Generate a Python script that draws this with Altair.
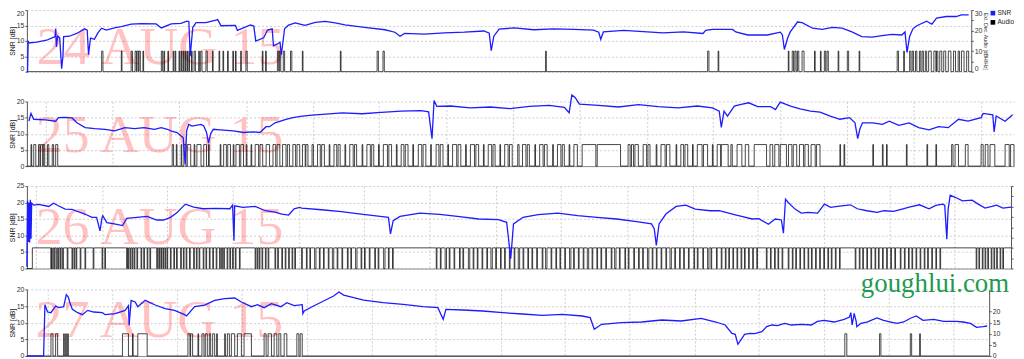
import altair as alt
import pandas as pd

# ---------------- data (x = minutes of the day, 0..1440) ----------------
DATES = ["24 AUG 15", "25 AUG 15", "26 AUG 15", "27 AUG 15"]
DATE_POS = [(15, 2.4), (13, 4.3), (13, 7.5), (13, 5.7)]
WATERMARK = "goughlui.com"
WATERMARK_POS = (1248, 19.1)
LEGEND_NAMES = ["SNR", "Audio"]
LEGEND_POS = [(1473, 19.0), (1473, 16.0)]
LEGEND_TEXT_T = 1480

SNR_TICKS_20 = [0, 5, 10, 15, 20]
SNR_TICKS_25 = [0, 5, 10, 15, 20, 25]
AUDIO_TICKS_30 = [0, 5, 10, 15, 20, 25, 30]
AUDIO_TICKS_20 = [0, 5, 10, 15, 20]
AUDIO_TICKS_40 = [0, 5, 10, 15, 20, 25, 30, 35, 40]
AUDIO_LEVEL = 10

p1_grid = [61, 162, 264, 365, 468, 570, 672, 773, 875, 976, 1079, 1181, 1283, 1384]
p2_grid = [27, 125, 222, 320, 418, 514, 612, 709, 807, 905, 1001, 1099, 1197, 1294, 1392]
p3_grid = [13, 110, 205, 301, 398, 493, 589, 686, 781, 878, 974, 1069, 1166, 1262, 1357]
p4_grid = [31, 128, 224, 321, 419, 516, 612, 709, 805, 902, 999, 1095, 1193, 1290, 1386]

p1_snr = [(0, 0), (1, 0), (2, 10), (3, 9.3), (15, 9.6), (30, 10.2), (42, 11.3), (43, 11.5), (44, 14), (45, 8),
          (47, 11.5), (50, 11), (53, 1), (55, 5), (56, 11.4), (65, 11.5), (76, 12.4), (88, 13.9), (92, 13.5),
          (94, 5.5), (97, 10.9), (103, 10.5), (108, 12.5), (114, 14.1), (121, 13.5), (135, 14.3), (144, 14.6),
          (159, 15.4), (175, 15.6), (197, 15.5), (205, 14.2), (220, 15.5), (235, 15.7), (244, 16.4), (247, 16.2),
          (249, 5), (253, 14.4), (258, 15.9), (273, 15.9), (288, 16.7), (291, 16.9), (296, 14.9), (318, 15.0),
          (321, 13.4), (341, 15.2), (346, 14.8), (349, 9.9), (361, 11), (367, 13.5), (374, 13.9), (376, 8.4),
          (382, 9.0), (386, 9.5), (388, 5.5), (393, 14), (399, 15.1), (409, 15.8), (424, 15.0), (440, 16.0),
          (455, 16.3), (470, 15.8), (485, 15.2), (515, 14.4), (546, 13.6), (561, 12.8), (569, 11.5), (576, 12.4),
          (606, 12.2), (637, 12.6), (667, 12.8), (697, 13.2), (705, 12.5), (708, 6.8), (712, 11.5), (720, 13.8),
          (743, 14.2), (773, 13.6), (803, 13.9), (834, 13.7), (864, 13.5), (872, 12.8), (875, 10.5), (879, 12.9),
          (910, 13.4), (940, 13.0), (970, 12.6), (1001, 12.9), (1031, 12.4), (1035, 13.4), (1046, 13.7),
          (1076, 13.7), (1081, 12.9), (1099, 11.9), (1129, 11.9), (1149, 12.8), (1152, 11.9), (1155, 7.2),
          (1160, 10.9), (1164, 12.9), (1175, 16.1), (1182, 15.9), (1198, 14.1), (1213, 13.7), (1228, 14.4),
          (1243, 14.1), (1258, 12.9), (1273, 11.4), (1289, 11.2), (1304, 11.7), (1319, 12.1), (1334, 11.9),
          (1339, 12.9), (1342, 6.2), (1346, 11.4), (1351, 13.9), (1357, 14.9), (1372, 16.4), (1380, 15.4),
          (1387, 17.4), (1402, 17.9), (1417, 17.9), (1425, 18.4), (1436, 18.4)]

p1_audio = [(114, 116), (144, 145), (159, 161), (165, 167), (168, 170), (171, 173), (177, 178), (205, 207),
            (209, 210), (215, 216), (223, 224), (226, 227), (232, 233), (235, 236), (238, 239), (241, 242),
            (244, 245), (247, 248), (251, 252), (255, 257), (262, 263), (265, 267), (273, 275), (283, 284),
            (293, 294), (299, 300), (306, 307), (314, 315), (318, 319), (326, 327), (334, 336), (359, 360),
            (364, 365), (382, 384), (385, 387), (391, 393), (402, 404), (420, 421), (478, 479), (534, 536),
            (543, 545), (791, 792), (1038, 1040), (1054, 1055), (1161, 1162), (1167, 1169), (1171, 1173),
            (1175, 1177), (1182, 1185), (1201, 1202), (1210, 1211), (1216, 1218), (1220, 1222), (1237, 1238),
            (1251, 1253), (1269, 1270), (1327, 1329), (1337, 1338), (1346, 1348), (1350, 1352), (1355, 1357),
            (1361, 1363), (1365, 1367), (1370, 1372), (1375, 1379), (1383, 1386), (1387, 1389), (1392, 1395),
            (1398, 1401), (1405, 1409), (1413, 1416), (1420, 1422), (1425, 1429), (1433, 1436)]

p2_snr = [(3, 13.9), (6, 16.3), (10, 14.5), (27, 14.3), (42, 13.9), (46, 15.0), (56, 15.1), (66, 14.9), (73, 13.4),
          (85, 11.9), (99, 11.6), (114, 11.4), (128, 10.9), (143, 11.9), (157, 11.6), (171, 11.9), (186, 11.4),
          (196, 11.9), (205, 11.4), (210, 10.9), (219, 10.4), (225, 9.3), (228, 8.8), (231, 0.6), (233, 10.9),
          (236, 12.9), (241, 12.4), (254, 12.9), (258, 12.4), (262, 10.5), (265, 7.1), (268, 10), (272, 11.4),
          (282, 11.2), (301, 10.9), (316, 10.4), (330, 10.6), (340, 10.4), (349, 12.2), (354, 12.2), (362, 13.4),
          (378, 14.5), (388, 15.0), (402, 15.5), (416, 15.8), (431, 16.0), (460, 16.5), (489, 16.2), (517, 16.6),
          (546, 17.0), (575, 17.2), (586, 16.8), (591, 8.5), (594, 20.3), (598, 18.5), (618, 18.6), (647, 18.0),
          (676, 18.3), (705, 17.8), (733, 18.5), (762, 18.8), (784, 18.2), (791, 16.5), (795, 22.0), (800, 21.2),
          (806, 19.2), (834, 18.8), (863, 18.3), (892, 19.0), (921, 18.4), (950, 18.0), (978, 18.6), (1000, 18.0),
          (1010, 17.0), (1013, 12.0), (1017, 17.0), (1022, 15.5), (1032, 18.6), (1042, 19.1), (1053, 19.6),
          (1066, 18.4), (1085, 18.4), (1092, 17.5), (1099, 19.8), (1114, 18.6), (1128, 17.7), (1143, 17.0),
          (1157, 16.7), (1172, 15.5), (1186, 14.5), (1200, 15.0), (1208, 13.4), (1212, 8.5), (1215, 11.4),
          (1219, 13.4), (1234, 13.4), (1248, 12.9), (1258, 13.9), (1272, 12.6), (1287, 13.4), (1301, 11.9),
          (1316, 11.2), (1330, 12.2), (1344, 11.9), (1359, 14.5), (1373, 13.9), (1392, 15.0), (1395, 16.3),
          (1409, 15.9), (1411, 10.6), (1414, 15.5), (1427, 13.9), (1438, 15.9)]

p2_audio = [(6, 7), (10, 13), (17, 19), (20, 23), (24, 26), (30, 32), (37, 39), (42, 45), (212, 214), (218, 219),
            (225, 226), (229, 232), (234, 239), (244, 245), (248, 254), (258, 262), (265, 266), (282, 283),
            (287, 291), (293, 297), (301, 302), (305, 310), (312, 316), (320, 321), (327, 328), (333, 338),
            (340, 344), (349, 354), (359, 363), (365, 369), (373, 378), (380, 383), (388, 392), (394, 398),
            (402, 406), (407, 410), (416, 418), (424, 428), (430, 434), (441, 442), (448, 452), (454, 457),
            (464, 465), (471, 476), (478, 481), (489, 490), (496, 501), (503, 506), (513, 514), (520, 526),
            (528, 532), (539, 540), (546, 550), (552, 556), (563, 564), (571, 576), (578, 582), (589, 590),
            (597, 601), (603, 607), (614, 615), (621, 627), (629, 633), (640, 641), (647, 653), (655, 659),
            (666, 667), (673, 678), (680, 683), (690, 691), (697, 702), (704, 708), (716, 718), (723, 728),
            (730, 733), (741, 742), (748, 753), (755, 759), (767, 768), (774, 779), (781, 784), (791, 792),
            (798, 803), (810, 830), (832, 866), (877, 880), (882, 885), (887, 892), (899, 904), (906, 909),
            (918, 919), (925, 931), (933, 938), (947, 948), (954, 958), (960, 964), (971, 972), (978, 985),
            (987, 993), (1000, 1001), (1007, 1012), (1013, 1023), (1027, 1029), (1036, 1043), (1048, 1053),
            (1061, 1079), (1084, 1088), (1091, 1097), (1099, 1108), (1111, 1116), (1118, 1123), (1127, 1133),
            (1135, 1140), (1144, 1150), (1152, 1157), (1186, 1187), (1192, 1193), (1234, 1235), (1248, 1249),
            (1254, 1255), (1283, 1284), (1313, 1314), (1326, 1327), (1349, 1351), (1354, 1359), (1369, 1373),
            (1392, 1395), (1398, 1402), (1405, 1412), (1427, 1433), (1435, 1440)]

p3_snr = [(0, 0.5), (1, 20.5), (2, 8), (3, 20), (4, 7.9), (5, 20.8), (6, 9), (7, 19.8), (10, 19.2), (17, 19.4),
          (32, 18.8), (39, 19.8), (46, 19.0), (56, 18.0), (66, 17.9), (75, 17.2), (85, 16.5), (95, 15.5),
          (102, 15.5), (107, 11.4), (110, 15.5), (111, 16.0), (117, 13.9), (128, 13.5), (140, 13.0), (146, 15.2),
          (161, 15.5), (176, 15.8), (190, 14.7), (200, 14.7), (210, 15.5), (219, 16.8), (232, 19.5), (244, 18.6),
          (258, 18.1), (277, 18.2), (297, 18.1), (301, 19.2), (303, 8.4), (304, 19.0), (316, 18.5), (334, 18.8),
          (349, 17.5), (363, 17.1), (373, 16.5), (383, 16.2), (391, 18.1), (399, 18.5), (402, 18.3), (431, 17.8),
          (460, 17.2), (489, 16.5), (517, 15.8), (529, 15.5), (532, 10.5), (536, 14.5), (546, 15.8), (575, 16.8),
          (604, 16.4), (633, 15.7), (661, 15.0), (690, 14.8), (702, 14.0), (708, 3.0), (712, 13.5), (726, 15.5),
          (748, 16.3), (777, 16.8), (806, 16.0), (834, 15.5), (863, 15.0), (892, 14.2), (914, 13.5), (918, 12.0),
          (921, 7.0), (925, 13.5), (935, 16.5), (950, 18.8), (964, 19.2), (978, 18.0), (1000, 17.5), (1013, 17.5),
          (1027, 16.8), (1038, 16.2), (1046, 15.8), (1061, 15.0), (1071, 15.1), (1085, 13.4), (1095, 15.0),
          (1104, 14.7), (1107, 10.7), (1110, 21.0), (1114, 20.0), (1124, 18.0), (1133, 16.8), (1143, 17.0),
          (1157, 16.8), (1167, 19.5), (1176, 18.5), (1186, 18.8), (1205, 19.3), (1215, 18.1), (1229, 17.5),
          (1244, 17.0), (1254, 17.5), (1268, 17.3), (1282, 18.1), (1291, 18.6), (1306, 19.3), (1320, 18.1),
          (1330, 19.1), (1340, 19.5), (1343, 19.2), (1346, 8.9), (1348, 18.0), (1351, 22.2), (1359, 21.5),
          (1369, 20.5), (1383, 20.7), (1392, 19.5), (1402, 18.3), (1412, 18.8), (1419, 19.2), (1428, 18.3),
          (1440, 18.6)]

# panel 3 audio is high most of the time: these are the short drops to zero
p3_audio_start = 8
p3_audio_dips = [(35, 36), (37, 38.5), (40, 41), (43, 44.5), (46, 47), (49, 50), (52, 53.5), (59, 60), (66, 67),
                 (69, 70), (72, 73), (78, 79), (85, 86), (97, 98), (110, 111), (114, 115), (146, 147), (148, 149),
                 (151, 152), (154, 155), (157, 158), (161, 162), (167, 168), (171, 172), (176, 177), (180, 181),
                 (190, 191), (193, 194), (196, 197), (199, 200), (202, 203), (205, 206), (210, 211), (215, 216),
                 (219, 220), (225, 226), (229, 230), (233, 234), (238, 239), (244, 245), (248, 249), (252, 253),
                 (258, 259), (262, 263), (267, 268), (272, 273), (277, 278), (282, 283), (285, 286), (288, 289),
                 (293, 294), (297, 298), (301, 302), (305, 306), (311, 312), (334, 335), (337, 338), (340, 341),
                 (344, 345), (349, 350), (353, 354), (363, 364), (367, 368), (373, 374), (378, 379), (383, 384),
                 (388, 389), (392, 393), (402, 403), (409, 410), (414, 415), (421, 423), (428, 429), (434, 435),
                 (441, 442), (447, 449), (454, 455), (461, 462), (469, 470), (474, 475), (481, 483), (489, 490),
                 (494, 495), (501, 502), (509, 510), (514, 515), (522, 524), (529, 530), (535, 536), (599, 600),
                 (605, 606), (612, 614), (618, 619), (625, 626), (633, 634), (638, 639), (646, 648), (653, 654),
                 (659, 660), (666, 667), (673, 674), (679, 681), (686, 687), (693, 694), (699, 700), (706, 707),
                 (713, 714), (719, 721), (726, 727), (733, 734), (739, 740), (746, 747), (754, 755), (759, 761),
                 (767, 768), (774, 775), (780, 781), (787, 788), (794, 796), (800, 801), (807, 808), (814, 815),
                 (820, 822), (827, 828), (834, 835), (840, 841), (847, 848), (855, 856), (860, 862), (867, 868),
                 (875, 876), (880, 881), (888, 889), (895, 896), (901, 902), (908, 910), (915, 916), (921, 922),
                 (928, 929), (935, 936), (941, 943), (948, 949), (955, 956), (961, 962), (968, 969), (976, 977),
                 (981, 982), (989, 990), (996, 998), (1001, 1002), (1009, 1010), (1016, 1017), (1022, 1023),
                 (1027, 1028), (1033, 1034), (1039, 1040), (1045, 1046), (1050, 1051), (1056, 1057), (1062, 1063),
                 (1068, 1069), (1082, 1083), (1088, 1089), (1094, 1095), (1099, 1100), (1105, 1106), (1114, 1115),
                 (1120, 1121), (1125, 1126), (1131, 1132), (1137, 1138), (1143, 1144), (1148, 1149), (1154, 1155),
                 (1160, 1161), (1166, 1167), (1172, 1173), (1177, 1178), (1183, 1184), (1189, 1190), (1212, 1213),
                 (1218, 1219), (1223, 1224), (1229, 1230), (1235, 1236), (1241, 1242), (1246, 1247), (1252, 1253),
                 (1258, 1259), (1264, 1265), (1270, 1271), (1278, 1279), (1284, 1285), (1290, 1291), (1295, 1296),
                 (1301, 1302), (1307, 1308), (1313, 1314), (1318, 1319), (1324, 1325), (1330, 1331), (1336, 1337),
                 (1389, 1390), (1393, 1394), (1398, 1399), (1402, 1403), (1406, 1407), (1411, 1412), (1415, 1416),
                 (1419, 1420), (1424, 1425), (1428, 1429)]

p4_snr = [(0, 0), (3, 0), (25, 0), (27, 15.4), (31, 13.2), (36, 13.0), (43, 15.0), (48, 14.5), (55, 14.8),
          (59, 18.4), (62, 17.7), (64, 16.2), (68, 14.0), (76, 13.0), (83, 12.4), (91, 13.7), (100, 13.2),
          (113, 13.0), (117, 12.4), (132, 12.7), (147, 13.7), (152, 15.1), (153, 9.2), (156, 16.7), (162, 16.2),
          (166, 14.8), (177, 16.7), (192, 15.3), (207, 14.2), (221, 13.7), (236, 12.4), (239, 12.0), (251, 14.8),
          (266, 15.3), (281, 16.7), (296, 17.2), (311, 17.4), (321, 16.2), (336, 14.8), (345, 15.4), (355, 14.5),
          (366, 15.7), (380, 14.8), (389, 16.0), (400, 15.1), (412, 15.4), (413, 12.7), (415, 13.5), (429, 15.0),
          (444, 16.5), (459, 18.0), (467, 19.2), (474, 18.3), (489, 17.5), (504, 16.8), (533, 16.0), (563, 15.5),
          (593, 14.8), (615, 14.5), (623, 11.0), (627, 14.0), (652, 13.8), (682, 13.5), (712, 13.0), (742, 12.6),
          (771, 12.2), (801, 12.5), (831, 12.0), (843, 11.5), (849, 8.0), (860, 9.5), (890, 10.0), (920, 10.2),
          (950, 10.8), (979, 10.5), (1009, 11.3), (1031, 10.2), (1045, 9.3), (1055, 6.8), (1060, 6.5),
          (1064, 3.5), (1070, 5.3), (1074, 6.5), (1082, 6.8), (1089, 6.7), (1100, 7.3), (1107, 8.8), (1115, 9.3),
          (1123, 9.1), (1134, 9.8), (1144, 9.3), (1159, 9.5), (1174, 9.3), (1183, 10.4), (1193, 10.7),
          (1208, 10.2), (1223, 11.0), (1231, 11.7), (1233, 13.0), (1235, 9.3), (1238, 12.8), (1241, 10.4),
          (1242, 8.8), (1248, 9.8), (1257, 10.2), (1272, 11.4), (1282, 10.7), (1293, 10.2), (1302, 9.8),
          (1312, 10.2), (1323, 11.4), (1331, 12.0), (1341, 10.7), (1357, 11.0), (1372, 10.4), (1391, 10.4),
          (1401, 10.2), (1412, 9.8), (1421, 8.6), (1431, 8.8), (1437, 9.0)]

p4_audio = [(36, 39), (43, 46), (55, 56), (58, 59), (61, 62), (143, 152), (158, 159), (166, 180), (241, 244),
            (245, 248), (256, 257), (262, 265), (267, 270), (273, 275), (278, 281), (284, 285), (296, 297),
            (300, 303), (306, 311), (315, 321), (325, 336), (355, 358), (361, 366), (370, 374), (377, 380),
            (385, 389), (404, 407), (409, 412), (1224, 1227), (1276, 1278), (1322, 1324), (1336, 1337)]

# ---------------- styling ----------------
BLUE = "#1c1cff"
GRID = "#cfcfcf"
FONT = "Liberation Sans"
SERIF = "Liberation Serif"
COLOR_SCALE = alt.Scale(domain=LEGEND_NAMES, range=[BLUE, "#000000"])


def snr_frame(points):
    return pd.DataFrame({"t": [p[0] for p in points], "v": [p[1] for p in points],
                         "i": list(range(len(points)))})


def audio_frame(events, level, high_from=None):
    rows = []
    if high_from is None:
        rows.append((0, 0))
        for s, e in events:
            rows += [(s, 0), (s, level), (e, level), (e, 0)]
        rows.append((1440, 0))
    else:
        rows += [(0, 0), (high_from, 0), (high_from, level)]
        for s, e in events:
            rows += [(s, level), (s, 0), (e, 0), (e, level)]
        rows.append((1440, level))
    return pd.DataFrame({"t": [r[0] for r in rows], "a": [r[1] for r in rows],
                         "i": list(range(len(rows)))})


def panel(snr_pts, aud_df, date, date_pos, width, height, snr_dom, snr_ticks, aud_dom, aud_axis,
          grid_vals, flush=False, legend=False, watermark=None):
    xenc = alt.X("t:Q", scale=alt.Scale(domain=[0, 1440], nice=False, zero=False),
                 axis=alt.Axis(values=grid_vals, labels=False, ticks=False, title=None, grid=True,
                               gridDash=[2, 2], gridColor=GRID, domainColor="#8a8a8a"))
    ysc = alt.Scale(domain=snr_dom, nice=False, zero=False)

    txt_df = pd.DataFrame({"t": [date_pos[0]], "v": [date_pos[1]], "label": [date]})
    text = alt.Chart(txt_df).mark_text(align="left", baseline="alphabetic", font=SERIF, fontSize=54,
                                       color="#ff0000", opacity=0.24).encode(
        x=xenc, y=alt.Y("v:Q", scale=ysc, axis=None), text="label:N")

    audio = alt.Chart(aud_df).mark_line(strokeWidth=0.8, color="#000000", opacity=0.9).encode(
        x=xenc,
        y=alt.Y("a:Q", scale=alt.Scale(domain=aud_dom, nice=False, zero=False), axis=aud_axis),
        order="i:Q")

    snr = alt.Chart(snr_frame(snr_pts)).mark_line(strokeWidth=1.3, color=BLUE).encode(
        x=xenc,
        y=alt.Y("v:Q", scale=ysc,
                axis=alt.Axis(orient="left", values=snr_ticks, title="SNR [dB]", grid=True,
                              gridDash=[2, 2], gridColor=GRID, labelFlush=flush)),
        order="i:Q")

    layers = [text, audio, snr]
    if legend:
        lg_df = pd.DataFrame({"t": [p[0] for p in LEGEND_POS], "v": [p[1] for p in LEGEND_POS],
                              "name": LEGEND_NAMES})
        sq = alt.Chart(lg_df).mark_square(size=22, opacity=1).encode(
            x=xenc, y=alt.Y("v:Q", scale=ysc, axis=None),
            color=alt.Color("name:N", scale=COLOR_SCALE, legend=None))
        lg_txt = alt.Chart(lg_df).mark_text(align="left", baseline="middle", font=FONT, fontSize=6.5,
                                            color="#222222").encode(
            x=alt.X("tt:Q", scale=alt.Scale(domain=[0, 1440], nice=False, zero=False), axis=None),
            y=alt.Y("v:Q", scale=ysc, axis=None), text="name:N").transform_calculate(tt=str(LEGEND_TEXT_T))
        layers += [sq, lg_txt]
    if watermark is not None:
        wm_df = pd.DataFrame({"t": [WATERMARK_POS[0]], "v": [WATERMARK_POS[1]], "label": [watermark]})
        wm = alt.Chart(wm_df).mark_text(align="left", baseline="alphabetic", font=SERIF, fontSize=27,
                                        color="#22994f").encode(
            x=xenc, y=alt.Y("v:Q", scale=ysc, axis=None), text="label:N")
        layers.append(wm)

    return alt.layer(*layers).resolve_scale(y="independent").properties(width=width, height=height)


p1 = panel(p1_snr, audio_frame(p1_audio, AUDIO_LEVEL), DATES[0], DATE_POS[0], 950, 62, [0, 20], SNR_TICKS_20,
           [0, 30], alt.Axis(orient="right", values=AUDIO_TICKS_30, title="Ext. Dec. Audio [dBH/Hz]",
                             titleFontSize=5.2, grid=False, labelFlush=True, titlePadding=1),
           p1_grid, flush=True, legend=True)
p2 = panel(p2_snr, audio_frame(p2_audio, AUDIO_LEVEL), DATES[1], DATE_POS[1], 993, 65, [0, 20], SNR_TICKS_20,
           [0, 30], None, p2_grid)
p3 = panel(p3_snr, audio_frame(p3_audio_dips, AUDIO_LEVEL, high_from=p3_audio_start), DATES[2], DATE_POS[2],
           990, 83, [0, 25], SNR_TICKS_25, [0, 40],
           alt.Axis(orient="right", values=AUDIO_TICKS_40, labels=False, title=None, grid=False), p3_grid)
p4 = panel(p4_snr, audio_frame(p4_audio, AUDIO_LEVEL), DATES[3], DATE_POS[3], 968, 67, [0, 20], SNR_TICKS_20,
           [0, 30], alt.Axis(orient="right", values=AUDIO_TICKS_20, title=None, grid=False), p4_grid,
           watermark=WATERMARK)

top = alt.vconcat(p1, p2, spacing=16)
bottom = alt.vconcat(p3, p4, spacing=-1)
chart = alt.vconcat(top, bottom, spacing=13).properties(padding=0, background="white").configure_view(
    stroke=None).configure_axis(
    labelFontSize=7, labelFont=FONT, labelColor="#333333", tickSize=2, tickColor="#555555",
    domainColor="#555555", labelPadding=1, titleFontSize=7, titleFont=FONT, titleFontWeight="normal",
    titlePadding=1, titleColor="#222222")

chart.save("out.html", embed_options={"renderer": "svg", "actions": False})
